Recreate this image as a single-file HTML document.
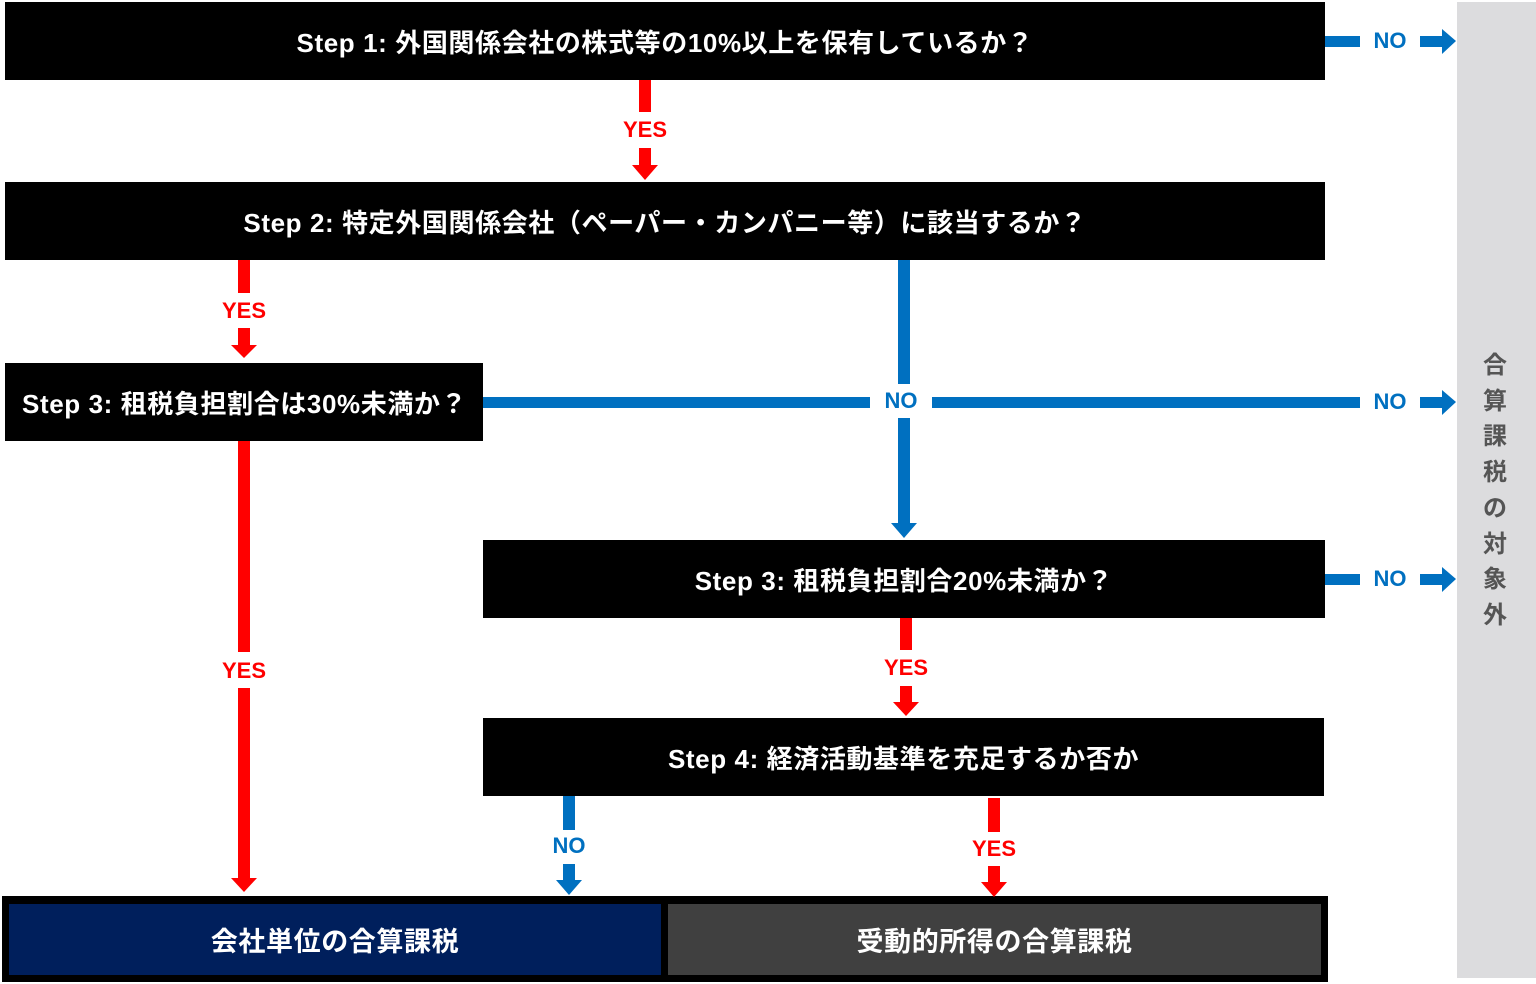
<!DOCTYPE html>
<html><head><meta charset="utf-8"><style>
body{margin:0;width:1536px;height:984px;background:#fff;position:relative;overflow:hidden;font-family:"Liberation Sans","Noto Sans CJK JP",sans-serif;}
.b{position:absolute;background:#000;color:#fff;font-weight:bold;font-size:26px;letter-spacing:0.6px;display:flex;align-items:center;justify-content:center;}
.l{position:absolute;font-weight:bold;font-size:22px;transform:translate(-50%,-50%);white-space:nowrap;}
.r{color:#f00}.u{color:#0070c0}
svg{position:absolute;left:0;top:0}
</style></head><body>
<div class="b" style="left:5px;top:2px;width:1320px;height:78px">Step 1: 外国関係会社の株式等の10%以上を保有しているか？</div>
<div class="b" style="left:5px;top:182px;width:1320px;height:78px">Step 2: 特定外国関係会社（ペーパー・カンパニー等）に該当するか？</div>
<div class="b" style="left:5px;top:363px;width:478px;height:78px;justify-content:flex-start;padding-left:17px;box-sizing:border-box">Step 3: 租税負担割合は30%未満か？</div>
<div class="b" style="left:483px;top:540px;width:842px;height:78px">Step 3: 租税負担割合20%未満か？</div>
<div class="b" style="left:483px;top:718px;width:841px;height:78px">Step 4: 経済活動基準を充足するか否か</div>
<div style="position:absolute;left:2px;top:896px;width:1326px;height:86px;background:#000"></div>
<div class="b" style="left:9px;top:904px;width:652px;height:71px;background:#001f5c;font-size:27px">会社単位の合算課税</div>
<div class="b" style="left:668px;top:904px;width:653px;height:71px;background:#404040;font-size:27px">受動的所得の合算課税</div>
<div style="position:absolute;left:1457px;top:2px;width:79px;height:976px;background:#dcdcde"></div>
<div style="position:absolute;left:1480px;top:348px;width:30px;font-size:24px;font-weight:bold;color:#555;line-height:35.7px;text-align:center">合<br>算<br>課<br>税<br>の<br>対<br>象<br>外</div>
<svg width="1536" height="984">
<g fill="#f00">
<rect x="639" y="80" width="12" height="32"/><rect x="639" y="148" width="12" height="17"/><polygon points="632,165 658,165 645,180"/>
<rect x="238" y="260" width="12" height="33"/><rect x="238" y="328" width="12" height="19"/><polygon points="231,345 257,345 244,358"/>
<rect x="238" y="441" width="12" height="211"/><rect x="238" y="688" width="12" height="190"/><polygon points="231,878 257,878 244,892"/>
<rect x="900" y="618" width="12" height="32"/><rect x="900" y="686" width="12" height="16"/><polygon points="893,702 919,702 906,716"/>
<rect x="988" y="798" width="12" height="34"/><rect x="988" y="866" width="12" height="16"/><polygon points="981,882 1007,882 994,897"/>
</g>
<g fill="#0070c0">
<rect x="898" y="260" width="12" height="124"/><rect x="898" y="418" width="12" height="105"/><polygon points="891,523 917,523 904,538"/>
<rect x="483" y="397" width="387" height="11"/><rect x="932" y="397" width="428" height="11"/>
<rect x="563" y="796" width="12" height="34"/><rect x="563" y="864" width="12" height="16"/><polygon points="556,880 582,880 569,895"/>
<rect x="1325" y="36" width="35" height="11"/><rect x="1420" y="36" width="22" height="11"/><polygon points="1442,29 1442,54 1456,41"/>
<rect x="1420" y="397" width="22" height="11"/><polygon points="1442,390 1442,415 1456,402"/>
<rect x="1325" y="574" width="35" height="11"/><rect x="1420" y="574" width="22" height="11"/><polygon points="1442,567 1442,592 1456,579"/>
</g>
</svg>
<div class="l r" style="left:645px;top:130px">YES</div>
<div class="l r" style="left:244px;top:311px">YES</div>
<div class="l r" style="left:244px;top:671px">YES</div>
<div class="l r" style="left:906px;top:668px">YES</div>
<div class="l r" style="left:994px;top:849px">YES</div>
<div class="l u" style="left:901px;top:401px">NO</div>
<div class="l u" style="left:1390px;top:41px">NO</div>
<div class="l u" style="left:1390px;top:402px">NO</div>
<div class="l u" style="left:1390px;top:579px">NO</div>
<div class="l u" style="left:569px;top:846px">NO</div>
</body></html>
